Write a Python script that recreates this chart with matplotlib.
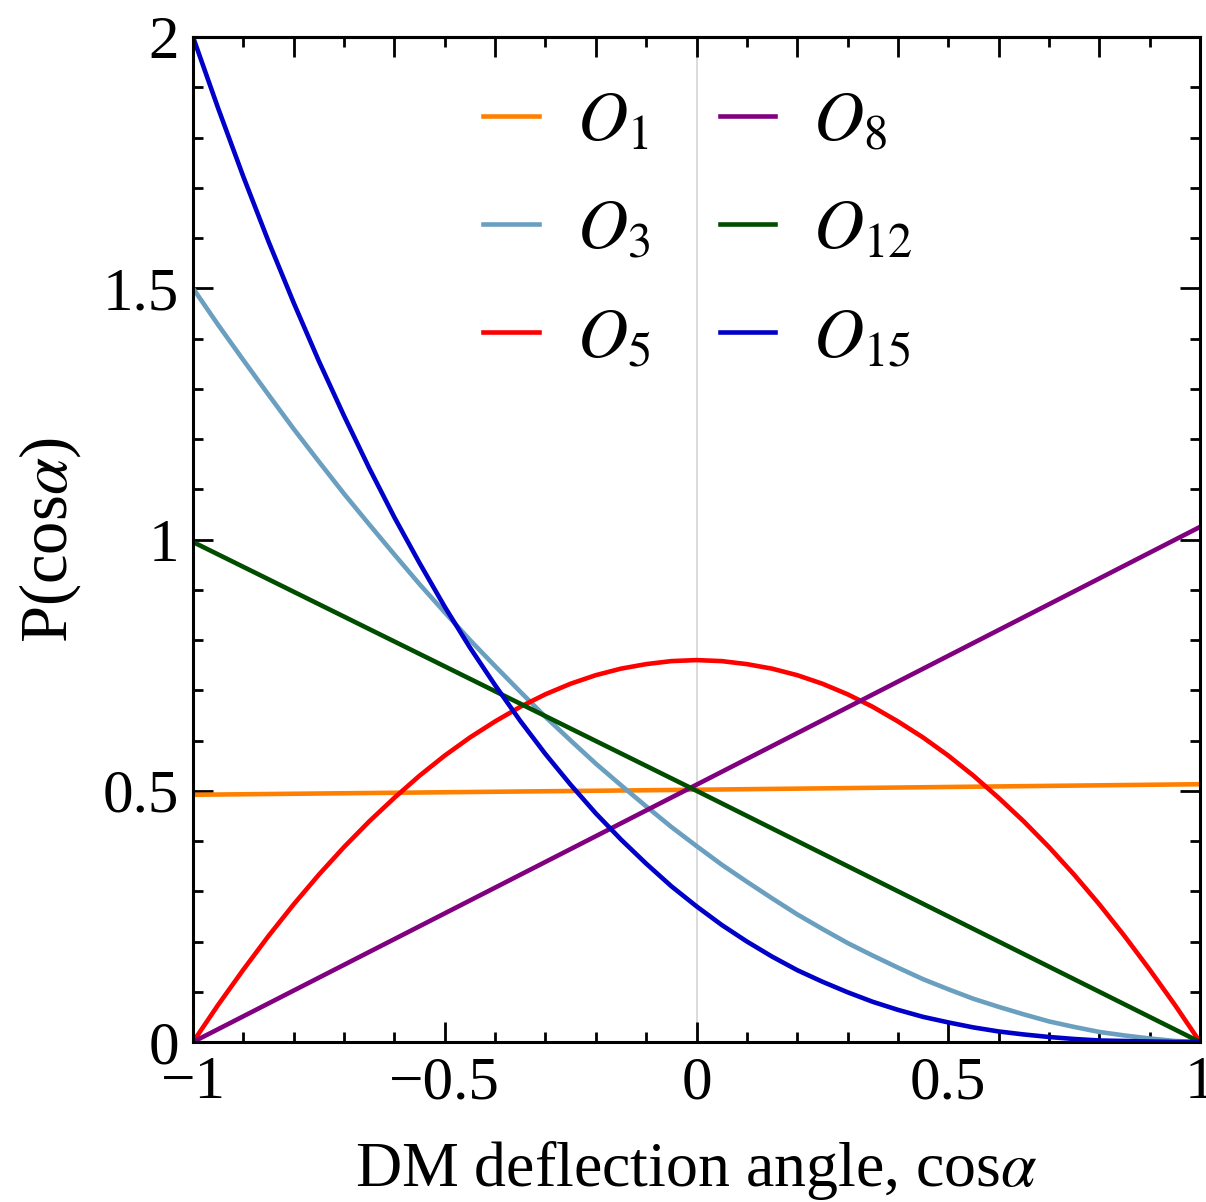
import matplotlib
matplotlib.use("Agg")
import matplotlib.pyplot as plt
from matplotlib.ticker import MultipleLocator, FixedLocator
from matplotlib.lines import Line2D

plt.rcParams["font.family"] = ["Liberation Serif", "DejaVu Serif"]
plt.rcParams["mathtext.fontset"] = "stix"

# Angular distributions P(cos alpha) for each operator
x_fine = [-1.00, -0.95, -0.90, -0.85, -0.80, -0.75, -0.70, -0.65, -0.60, -0.55,
          -0.50, -0.45, -0.40, -0.35, -0.30, -0.25, -0.20, -0.15, -0.10, -0.05,
          0.00, 0.05, 0.10, 0.15, 0.20, 0.25, 0.30, 0.35, 0.40, 0.45,
          0.50, 0.55, 0.60, 0.65, 0.70, 0.75, 0.80, 0.85, 0.90, 0.95, 1.00]
x_lin = [-1.0, 0.0, 1.0]

p_o1 = [0.492, 0.502, 0.513]
p_o8 = [0.0, 0.512, 1.025]
p_o12 = [0.995, 0.500, 0.0]
p_o3 = [1.500, 1.427, 1.357, 1.288, 1.220, 1.155, 1.091, 1.030, 0.970, 0.911,
        0.855, 0.800, 0.748, 0.697, 0.647, 0.600, 0.554, 0.511, 0.469, 0.428,
        0.390, 0.353, 0.319, 0.286, 0.254, 0.225, 0.197, 0.172, 0.148, 0.125,
        0.105, 0.086, 0.070, 0.055, 0.041, 0.030, 0.020, 0.013, 0.007, 0.002, 0.0]
p_o5 = [0.0, 0.074, 0.144, 0.211, 0.274, 0.333, 0.388, 0.439, 0.486, 0.530,
        0.570, 0.606, 0.638, 0.667, 0.692, 0.713, 0.730, 0.743, 0.752, 0.758,
        0.760, 0.758, 0.752, 0.743, 0.730, 0.713, 0.692, 0.667, 0.638, 0.606,
        0.570, 0.530, 0.486, 0.439, 0.388, 0.333, 0.274, 0.211, 0.144, 0.074, 0.0]
p_o15 = [2.000, 1.858, 1.722, 1.593, 1.471, 1.355, 1.246, 1.142, 1.044, 0.953,
         0.866, 0.785, 0.710, 0.639, 0.573, 0.512, 0.455, 0.403, 0.355, 0.310,
         0.270, 0.233, 0.200, 0.170, 0.143, 0.120, 0.099, 0.080, 0.064, 0.050,
         0.039, 0.029, 0.021, 0.015, 0.010, 0.006, 0.003, 0.002, 0.001, 0.0001, 0.0]

labels = [r"$O_{1}$", r"$O_{3}$", r"$O_{5}$", r"$O_{8}$", r"$O_{12}$", r"$O_{15}$"]
colors = ["#FF8000", "#6A9FC0", "#FF0000", "#800080", "#004D00", "#0000C8"]
series = [(x_lin, p_o1), (x_fine, p_o3), (x_fine, p_o5),
          (x_lin, p_o8), (x_lin, p_o12), (x_fine, p_o15)]

x_ticks = [-1, -0.5, 0, 0.5, 1]
x_ticklabels = ["\u22121", "\u22120.5", "0", "0.5", "1"]
y_ticks = [0, 0.5, 1, 1.5, 2]
y_ticklabels = ["0", "0.5", "1", "1.5", "2"]

W, H = 1206, 1202
fig = plt.figure(figsize=(W / 100, H / 100), dpi=100)
ax = fig.add_axes([193 / W, 1 - 1042 / H, (1200 - 193) / W, (1042 - 37) / H])

ax.axvline(0, color="#d4d4d4", lw=1.2, zorder=0)

for (xs, ys), c in zip(series, colors):
    ax.plot(xs, ys, color=c, lw=3.3, solid_capstyle="butt",
            solid_joinstyle="round")

ax.set_xlim(-1, 1)
ax.set_ylim(0, 2)

ax.xaxis.set_major_locator(FixedLocator(x_ticks))
ax.set_xticklabels(x_ticklabels)
ax.yaxis.set_major_locator(FixedLocator(y_ticks))
ax.set_yticklabels(y_ticklabels)
ax.xaxis.set_minor_locator(MultipleLocator(0.1))
ax.yaxis.set_minor_locator(MultipleLocator(0.1))

ax.tick_params(which="both", direction="in", top=False, right=True, width=2.0,
               labelsize=44, color="black")
ax.tick_params(which="major", length=14.5)
ax.tick_params(which="minor", length=7.2)
ax.tick_params(axis="x", which="major", pad=10)
ax.tick_params(axis="y", which="major", pad=10)

# Top frame ticks on their own spacing
top = ax.secondary_xaxis("top")
top.xaxis.set_major_locator(MultipleLocator(0.2))
top.xaxis.set_minor_locator(MultipleLocator(0.1))
top.tick_params(which="both", direction="in", width=2.0, labeltop=False)
top.tick_params(which="major", length=14.5)
top.tick_params(which="minor", length=7.2)
top.spines["top"].set_linewidth(2.2)

for sp in ax.spines.values():
    sp.set_linewidth(2.2)

ax.set_xlabel(r"DM deflection angle, cos$\alpha$", fontsize=46, labelpad=20)
ax.set_ylabel(r"P(cos$\alpha$)", fontsize=48, labelpad=14)

handles = [Line2D([], [], color=c, lw=3.3) for c in colors]
ax.legend(handles, labels, ncol=2, loc="upper left", frameon=False,
          bbox_to_anchor=(483 / W, 1 - 92 / H), bbox_transform=fig.transFigure,
          fontsize=50, handlelength=0.8, handletextpad=0.55,
          labelspacing=0.64, columnspacing=1.0, borderpad=0, borderaxespad=0)

fig.savefig("out.png", dpi=100)
